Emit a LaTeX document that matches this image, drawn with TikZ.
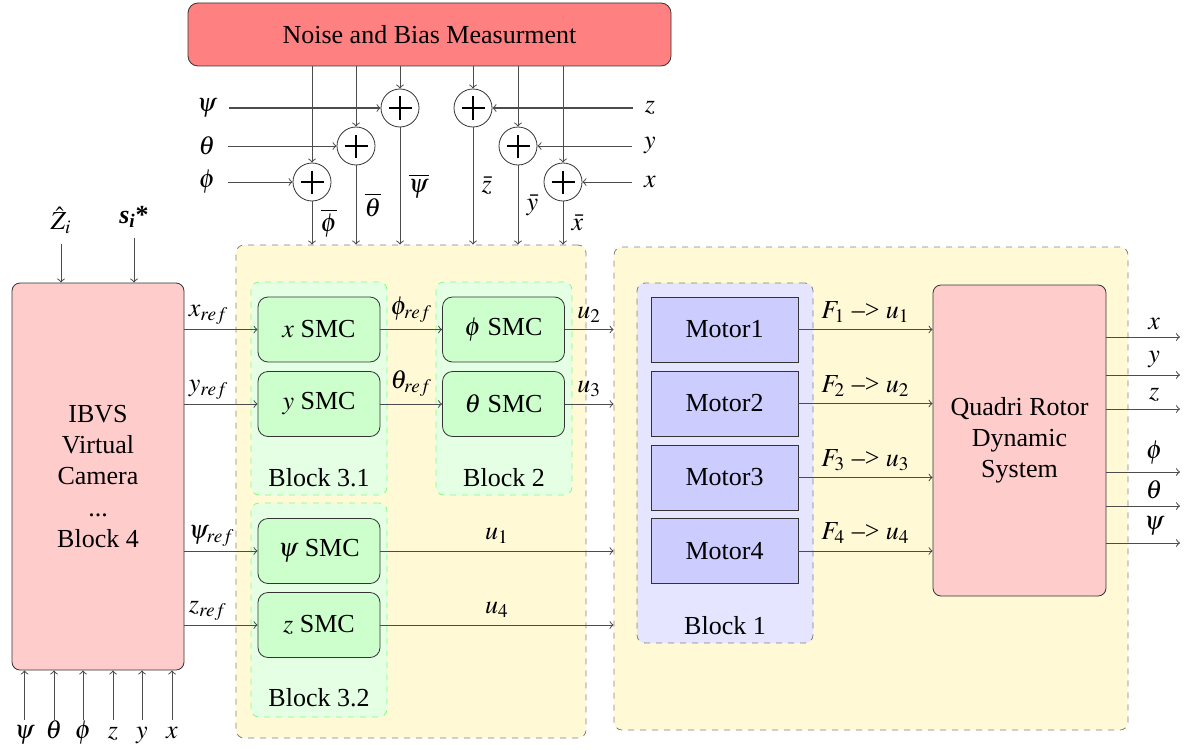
\documentclass[tikz,border=0pt]{standalone}
\usepackage{amsmath}
\usepackage{mathptmx}
\usepackage{fontspec}
\setmainfont[Ligatures=TeX]{Liberation Serif}
\newfontfamily\tnrfont[Ligatures=TeX]{Liberation Serif}
\definecolor{yellowbg}{HTML}{FFF9D6}
\begin{document}
\begin{tikzpicture}[x=0.5pt,y=-0.5pt,
  font=\tnrfont\fontsize{13}{15.6}\selectfont,
  yblock/.style={draw=gray, dashed, fill=yellowbg, rounded corners=4pt, inner sep=0pt},
  gblock/.style={draw=green!50, dashed, fill=green!10, rounded corners=4pt, inner sep=0pt},
  bblock/.style={draw=gray, dashed, fill=blue!10, rounded corners=4pt, inner sep=0pt},
  smc/.style={draw=black!80, fill=green!20, rounded corners=5pt, minimum width=61pt, minimum height=32.5pt, inner sep=0pt},
  motor/.style={draw=black!80, fill=blue!20, minimum width=73.5pt, minimum height=32.5pt, inner sep=0pt},
  sumnode/.style={circle, draw=black!80, minimum size=19pt, inner sep=0pt},
  conn/.style={->, draw=black!70, line width=0.5pt},
  inlab/.style={inner sep=6pt},
  botlab/.style={inner sep=1pt, text height=8pt, text depth=3pt, anchor=base}
]
\useasboundingbox (0,0) rectangle (1192,749);

% background blocks
\node[yblock, minimum width=175pt, minimum height=246.5pt] (ya) at (411,491.5) {};
\node[yblock, minimum width=257pt, minimum height=241.5pt] (yb) at (871,488.5) {};
\node[gblock, minimum width=68pt, minimum height=106.5pt] (g31) at (319,388.5) {};
\node[gblock, minimum width=68pt, minimum height=106.5pt] (g2) at (504,388.5) {};
\node[gblock, minimum width=68pt, minimum height=107pt] (g32) at (319,610) {};
\node[bblock, minimum width=88pt, minimum height=180pt] (b1) at (725,463) {};
\node (l31) at (319,478) {Block 3.1};
\node (l2) at (504,478) {Block 2};
\node (l32) at (319,698) {Block 3.2};
\node (l1) at (725,626) {Block 1};

% noise box
\node[draw=black!80, fill=red!50, rounded corners=5pt, minimum width=241.5pt, minimum height=31.5pt, inner sep=0pt] (noise) at (429.5,34.5) {Noise and Bias Measurment};

% summing junctions
\node[sumnode] (spsi) at (400,108) {};
\node[sumnode] (stheta) at (356,146) {};
\node[sumnode] (sphi) at (312,182) {};
\node[sumnode] (sz) at (473,108) {};
\node[sumnode] (sy) at (518,146) {};
\node[sumnode] (sx) at (563,182) {};
\foreach \s in {spsi,stheta,sphi,sz,sy,sx}{
  \draw[line width=0.6pt] (\s.center) +(-11.5,0) -- +(11.5,0) (\s.center) +(0,-11.5) -- +(0,11.5);
}

% inputs to junctions
\node[inlab] (ipsi) at (207,108) {$\psi$};
\node[inlab] (itheta) at (207,146) {$\theta$};
\node[inlab] (iphi) at (207,182) {$\phi$};
\node[inlab] (iz) at (650,108) {$z$};
\node[inlab] (iy) at (650,146) {$y$};
\node[inlab] (ix) at (650,182) {$x$};
\draw[conn] (ipsi.east) -- (spsi.west);
\draw[conn] (itheta.east) -- (stheta.west);
\draw[conn] (iphi.east) -- (sphi.west);
\draw[conn] (iz.west) -- (sz.east);
\draw[conn] (iy.west) -- (sy.east);
\draw[conn] (ix.west) -- (sx.east);
\foreach \s in {spsi,stheta,sphi,sz,sy,sx}{
  \draw[conn] (noise.south -| \s) -- (\s.north);
}
\draw[conn] (sphi.south) -- node[right, inner sep=4pt] {$\overline{\phi}$} (sphi |- ya.north);
\draw[conn] (stheta.south) -- node[right, inner sep=4pt] {$\overline{\theta}$} (stheta |- ya.north);
\draw[conn] (spsi.south) -- node[right, inner sep=4pt] {$\overline{\psi}$} (spsi |- ya.north);
\draw[conn] (sz.south) -- node[right, inner sep=4pt] {$\bar{z}$} (sz |- ya.north);
\draw[conn] (sy.south) -- node[right, inner sep=4pt] {$\bar{y}$} (sy |- ya.north);
\draw[conn] (sx.south) -- node[right, inner sep=4pt] {$\bar{x}$} (sx |- ya.north);

% IBVS
\node[draw=black!80, fill=red!20, rounded corners=4pt, minimum width=86pt, minimum height=193.5pt, inner sep=0pt, align=center] (ibvs) at (98,476.5) {IBVS\\Virtual\\Camera\\...\\Block 4};
\node[anchor=south, inner sep=5pt] (zh) at (61,244) {$\hat{Z}_i$};
\node[anchor=south, inner sep=5pt] (si) at (134,238) {$\textbf{\textit{s}}_{\textbf{\textit{i}}}\textbf{*}$};
\draw[conn] (zh.south) -- (zh.south |- ibvs.north);
\draw[conn] (si.south) -- (si.south |- ibvs.north);
\foreach \xx/\t/\n in {24.5/\psi/bpsi, 54/\theta/btheta, 83/\phi/bphi, 113/z/bz, 142/y/by, 172/x/bx}{
  \node[botlab] (\n) at (\xx,738) {$\t$};
  \draw[conn] (\n.north) -- (\n.north |- ibvs.south);
}

% SMC blocks
\node[smc] (xsmc) at (319,329.5) {$x$ SMC};
\node[smc] (ysmc) at (319,404) {$y$ SMC};
\node[smc] (psismc) at (319,551) {$\psi$ SMC};
\node[smc] (zsmc) at (319,625) {$z$ SMC};
\node[smc] (phismc) at (503.5,329.5) {$\phi$ SMC};
\node[smc] (thetasmc) at (503.5,404) {$\theta$ SMC};

\draw[conn] (xsmc -| ibvs.east) node[above right, inner sep=2pt] {$x_{ref}$} -- (xsmc.west);
\draw[conn] (ysmc -| ibvs.east) node[above right, inner sep=2pt] {$y_{ref}$} -- (ysmc.west);
\draw[conn] (psismc -| ibvs.east) node[above right, inner sep=2pt] {$\psi_{ref}$} -- (psismc.west);
\draw[conn] (zsmc -| ibvs.east) node[above right, inner sep=2pt] {$z_{ref}$} -- (zsmc.west);

\draw[conn] (xsmc.east) -- node[above] {$\phi_{ref}$} (phismc.west);
\draw[conn] (ysmc.east) -- node[above] {$\theta_{ref}$} (thetasmc.west);
\draw[conn] (phismc.east) -- node[above] {$u_2$} (phismc -| yb.west);
\draw[conn] (thetasmc.east) -- node[above] {$u_3$} (thetasmc -| yb.west);
\draw[conn] (psismc.east) -- node[above] {$u_1$} (psismc -| yb.west);
\draw[conn] (zsmc.east) -- node[above] {$u_4$} (zsmc -| yb.west);

% motors
\node[motor] (m1) at (724.5,329.5) {Motor1};
\node[motor] (m2) at (724.5,403.5) {Motor2};
\node[motor] (m3) at (724.5,477.5) {Motor3};
\node[motor] (m4) at (724.5,551) {Motor4};

% quadrotor
\node[draw=black!80, fill=red!20, rounded corners=4pt, minimum width=86.5pt, minimum height=155.5pt, inner sep=0pt, align=center] (quad) at (1019.5,440.5) {Quadri Rotor\\Dynamic\\System};

\draw[conn] (m1.east) -- node[above] {$F_1$ \textendash> $u_1$} (m1 -| quad.west);
\draw[conn] (m2.east) -- node[above] {$F_2$ \textendash> $u_2$} (m2 -| quad.west);
\draw[conn] (m3.east) -- node[above] {$F_3$ \textendash> $u_3$} (m3 -| quad.west);
\draw[conn] (m4.east) -- node[above] {$F_4$ \textendash> $u_4$} (m4 -| quad.west);

\foreach \yy/\t/\n in {337/x/ox, 375/y/oy, 409/z/oz, 472/\phi/ophi, 506/\theta/otheta, 543/\psi/opsi}{
  \coordinate (\n) at (1180,\yy);
  \draw[conn] (\n -| quad.east) -- (\n) node[pos=0.65, above] {$\t$};
}
\end{tikzpicture}
\end{document}
